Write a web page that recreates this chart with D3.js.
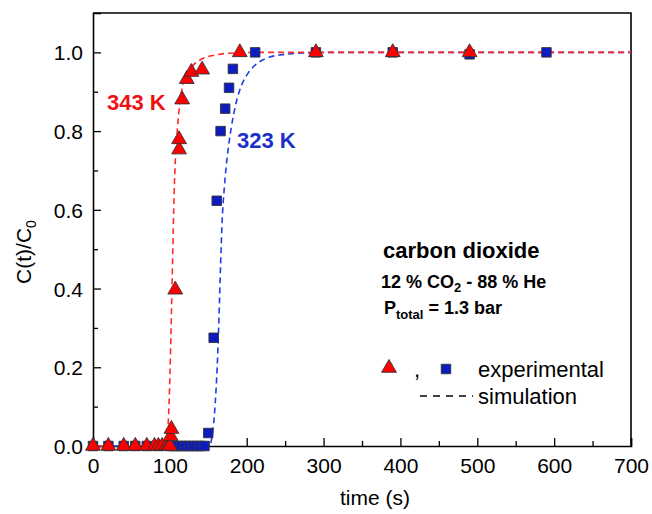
<!DOCTYPE html>
<html>
<head>
<meta charset="utf-8">
<script src="https://cdn.jsdelivr.net/npm/d3@7"></script>
<style>
  body { margin: 0; background: #fff; }
  text { font-family: "Liberation Sans", Arial, sans-serif; }
</style>
</head>
<body>
<div class="chart"></div>
<script>
// experimental points, 343 K
var redT = [0, 20, 40, 55, 70, 80, 85, 90, 95, 98, 100, 101, 102, 107, 112, 112, 116, 122, 128, 142, 191, 290, 390, 490];
var redV = [0, 0, 0, 0, 0, 0, 0, 0, 0, 0, 0, 0.025, 0.043, 0.397, 0.753, 0.779, 0.88, 0.932, 0.95, 0.956, 1.0, 1.0, 1.0, 1.0];

// experimental points, 323 K
var blueT = [0, 20, 40, 55, 70, 85, 100, 105, 110, 115, 120, 125, 130, 135, 140, 145, 150, 157, 161, 166, 172, 177, 182, 211, 290, 390, 490, 590];
var blueV = [0, 0, 0, 0, 0, 0, 0, 0, 0, 0, 0, 0, 0, 0, 0, 0, 0.033, 0.275, 0.623, 0.80, 0.857, 0.91, 0.958, 1.0, 1.0, 1.0, 0.995, 1.0];

// simulation curves
var redSimT = [0, 95, 97, 99, 101, 103, 105, 107, 110, 113, 116, 120, 125, 130, 138, 146, 158, 172, 190, 217, 260, 700];
var redSimV = [0, 0, 0.03, 0.11, 0.25, 0.42, 0.6, 0.72, 0.81, 0.87, 0.91, 0.935, 0.955, 0.967, 0.979, 0.987, 0.993, 0.997, 0.999, 1.0, 1.0, 1.0];
var blueSimT = [0, 152, 154, 156, 158, 160, 162, 164, 166, 168, 171, 175, 180, 186, 194, 202, 210, 220, 230, 245, 260, 285, 310, 700];
var blueSimV = [0, 0, 0.015, 0.04, 0.08, 0.14, 0.22, 0.33, 0.46, 0.57, 0.66, 0.74, 0.81, 0.87, 0.92, 0.948, 0.966, 0.98, 0.988, 0.994, 0.997, 0.999, 1.0, 1.0];

var xTicks = [0, 100, 200, 300, 400, 500, 600, 700];
var yTicks = [0, 0.2, 0.4, 0.6, 0.8, 1.0];

var RED = "#ff0000", BLUE = "#0d1cc0";

var margin = { top: 13, right: 21, bottom: 68, left: 93 },
    width = 652 - margin.left - margin.right,
    height = 514 - margin.top - margin.bottom;

var root = d3.select(".chart")
    .append("svg")
    .attr("width", 652)
    .attr("height", 514);
var svg = root.append("g")
    .attr("transform", "translate(" + margin.left + "," + margin.top + ")");

var x = d3.scaleLinear().domain([0, 700]).range([0, width]);
var y = d3.scaleLinear().domain([0, 1.1]).range([height, 0]);

function zip(a, b) { return a.map(function (d, i) { return [d, b[i]]; }); }

// minor ticks
svg.append("g")
    .attr("transform", "translate(0," + height + ")")
    .call(d3.axisBottom(x).tickValues(d3.range(50, 700, 100)).tickSize(-5).tickFormat(""))
    .call(function (g) { g.select(".domain").remove(); });
svg.append("g")
    .call(d3.axisLeft(y).tickValues([0.1, 0.3, 0.5, 0.7, 0.9]).tickSize(-5).tickFormat(""))
    .call(function (g) { g.select(".domain").remove(); });

// major axes
var xAxis = svg.append("g")
    .attr("transform", "translate(0," + height + ")")
    .call(d3.axisBottom(x).tickValues(xTicks).tickSize(-8).tickPadding(12).tickFormat(d3.format("d")));
var yAxis = svg.append("g")
    .call(d3.axisLeft(y).tickValues(yTicks).tickSize(-8).tickPadding(10).tickFormat(d3.format(".1f")));
svg.selectAll(".tick line").attr("stroke", "#000").attr("stroke-width", 1.3);
svg.selectAll(".domain").attr("stroke-width", 1.6);
svg.selectAll(".tick text").style("font-size", "21px").attr("fill", "#000");
yAxis.selectAll(".tick text").attr("dy", "0.36em");

// frame top / right
svg.append("path")
    .attr("d", "M0,0H" + width + "V" + height)
    .attr("fill", "none").attr("stroke", "#000").attr("stroke-width", 1.6);

// simulation lines
var line = d3.line()
    .x(function (d) { return x(d[0]); })
    .y(function (d) { return y(d[1]); })
    .curve(d3.curveMonotoneX);
svg.append("path")
    .datum(zip(blueSimT, blueSimV))
    .attr("d", line)
    .attr("fill", "none").attr("stroke", "#1f3de6").attr("stroke-width", 1.6)
    .attr("stroke-dasharray", "6,4");
svg.append("path")
    .datum(zip(redSimT, redSimV))
    .attr("d", line)
    .attr("fill", "none").attr("stroke", "#ff2a2a").attr("stroke-width", 1.6)
    .attr("stroke-dasharray", "6,4").attr("stroke-dashoffset", 5);

// markers
var tri = d3.symbol().type(d3.symbolTriangle).size(95);
var sq = d3.symbol().type(d3.symbolSquare).size(90);

svg.selectAll(".sq")
    .data(zip(blueT, blueV))
    .enter().append("path")
    .attr("d", sq)
    .attr("transform", function (d) { return "translate(" + x(d[0]) + "," + y(d[1]) + ")"; })
    .attr("fill", BLUE).attr("stroke", "#333").attr("stroke-width", 0.9);

svg.selectAll(".tri")
    .data(zip(redT, redV))
    .enter().append("path")
    .attr("d", tri)
    .attr("transform", function (d) { return "translate(" + x(d[0]) + "," + y(d[1]) + ")"; })
    .attr("fill", RED).attr("stroke", "#333").attr("stroke-width", 0.9);

// curve labels
root.append("text").attr("x", 107).attr("y", 110)
    .style("font-size", "22px").style("font-weight", "bold").attr("fill", "#ee1111").text("343 K");
root.append("text").attr("x", 237).attr("y", 148)
    .style("font-size", "22px").style("font-weight", "bold").attr("fill", "#1a2ec8").text("323 K");

// annotations
root.append("text").attr("x", 383).attr("y", 258)
    .style("font-size", "22px").style("font-weight", "bold").text("carbon dioxide");
var t2 = root.append("text").attr("x", 381).attr("y", 288)
    .style("font-size", "18px").style("font-weight", "bold");
t2.append("tspan").text("12 % CO");
t2.append("tspan").attr("dy", 4).style("font-size", "13px").text("2");
t2.append("tspan").attr("dy", -4).text(" - 88 % He");
var t3 = root.append("text").attr("x", 384).attr("y", 314)
    .style("font-size", "18px").style("font-weight", "bold");
t3.append("tspan").text("P");
t3.append("tspan").attr("dy", 5).style("font-size", "13px").text("total");
t3.append("tspan").attr("dy", -5).text(" = 1.3 bar");

// legend
root.append("path").attr("d", tri).attr("transform", "translate(389,368)")
    .attr("fill", RED).attr("stroke", "#333").attr("stroke-width", 0.9);
root.append("text").attr("x", 414).attr("y", 377).style("font-size", "22px").text(",");
root.append("path").attr("d", sq).attr("transform", "translate(446,369)")
    .attr("fill", BLUE).attr("stroke", "#333").attr("stroke-width", 0.9);
root.append("text").attr("x", 478).attr("y", 377).style("font-size", "22px").text("experimental");
root.append("line").attr("x1", 420).attr("x2", 473).attr("y1", 396).attr("y2", 396)
    .attr("stroke", "#000").attr("stroke-width", 1.3).attr("stroke-dasharray", "7,6");
root.append("text").attr("x", 478).attr("y", 404).style("font-size", "22px").text("simulation");

// axis titles
root.append("text").attr("x", 375).attr("y", 505).attr("text-anchor", "middle")
    .style("font-size", "21px").text("time (s)");
var yl = root.append("text").attr("transform", "translate(31,252) rotate(-90)")
    .attr("text-anchor", "middle").style("font-size", "21px");
yl.append("tspan").text("C(t)/C");
yl.append("tspan").attr("dy", 5).style("font-size", "14px").text("0");
</script>
</body>
</html>
